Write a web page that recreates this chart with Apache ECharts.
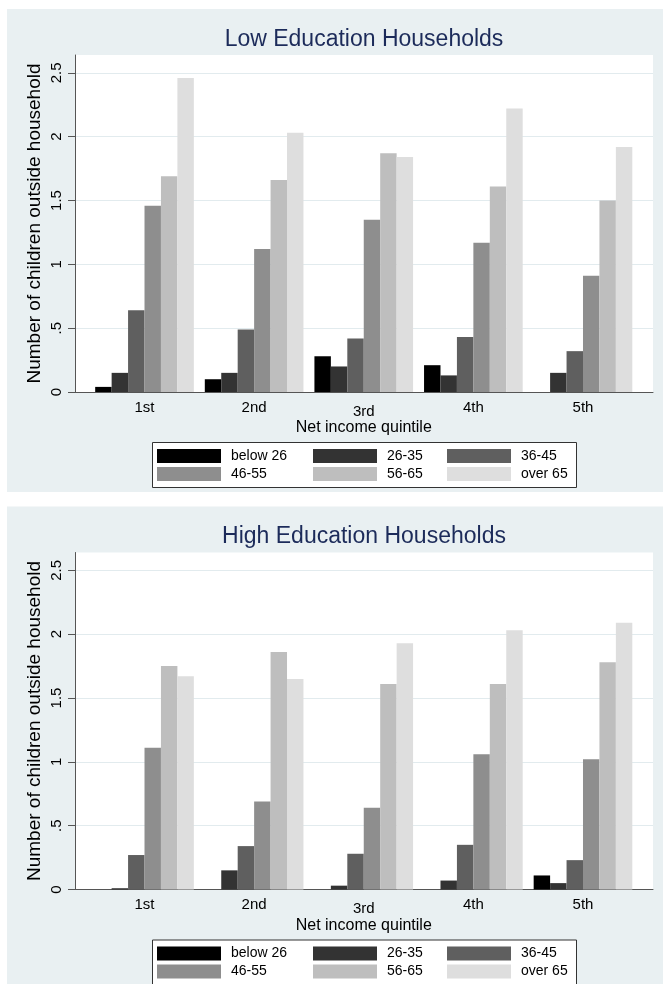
<!DOCTYPE html>
<html>
<head>
<meta charset="utf-8">
<script src="https://cdn.jsdelivr.net/npm/echarts@6/dist/echarts.min.js"></script>
<style>
  html, body { margin: 0; padding: 0; background: #ffffff; }
  #chart { width: 663px; height: 984px; }
</style>
</head>
<body>
<div id="chart"></div>
<script>
// Income quintiles on the category axis
const categories = ['1st', '2nd', '3rd', '4th', '5th'];
// Age groups of the household head, one series each
const ageGroups = ['below 26', '26-35', '36-45', '46-55', '56-65', 'over 65'];
// Value-axis ticks
const yTicks = [0, 0.5, 1, 1.5, 2, 2.5];

// Low education households: mean number of children outside household
const lowBelow26 = [0.04, 0.10, 0.28, 0.21, 0];
const low26to35  = [0.15, 0.15, 0.20, 0.13, 0.15];
const low36to45  = [0.64, 0.49, 0.42, 0.43, 0.32];
const low46to55  = [1.46, 1.12, 1.35, 1.17, 0.91];
const low56to65  = [1.69, 1.66, 1.87, 1.61, 1.50];
const lowOver65  = [2.46, 2.03, 1.84, 2.22, 1.92];

// High education households
const highBelow26 = [0, 0, 0, 0, 0.11];
const high26to35  = [0.01, 0.15, 0.03, 0.07, 0.05];
const high36to45  = [0.27, 0.34, 0.28, 0.35, 0.23];
const high46to55  = [1.11, 0.69, 0.64, 1.06, 1.02];
const high56to65  = [1.75, 1.86, 1.61, 1.61, 1.78];
const highOver65  = [1.67, 1.65, 1.93, 2.03, 2.09];

const panels = [
  { title: 'Low Education Households',
    values: [lowBelow26, low26to35, low36to45, low46to55, low56to65, lowOver65] },
  { title: 'High Education Households',
    values: [highBelow26, high26to35, high36to45, high46to55, high56to65, highOver65] }
];

const barColors = ['#000000', '#333333', '#5f5f5f', '#8e8e8e', '#bebebe', '#dedede'];
const FONT = '"Liberation Sans", Arial, Helvetica, sans-serif';
const PANEL_BG = '#e9f0f2';
const GRID_LINE = '#e2ebee';
const AXIS_COLOR = '#555555';
const Y_MAX = 2.64;
const PANEL_STEP = 497.5;

const fmtTick = v => (v === 0 ? '0' : String(v).replace(/^0\./, '.'));

const option = {
  animation: false,
  backgroundColor: '#ffffff',
  textStyle: { fontFamily: FONT },
  title: [],
  grid: [],
  xAxis: [],
  yAxis: [],
  legend: [],
  series: [],
  graphic: []
};

panels.forEach((panel, p) => {
  const off = p * PANEL_STEP;
  const gFrame = option.grid.length;
  const gBars = gFrame + 1;

  // panel background
  option.graphic.push({
    type: 'rect', z: -10, silent: true,
    shape: { x: 7, y: 9 + off, width: 660, height: 483 },
    style: { fill: PANEL_BG }
  });
  // legend frame
  option.graphic.push({
    type: 'rect', z: 1, silent: true,
    shape: { x: 152.5, y: 442.5 + off, width: 424, height: 45 },
    style: { fill: '#ffffff', stroke: '#333333', lineWidth: 1 }
  });

  option.title.push({
    text: panel.title,
    left: 364, top: 28 + off, padding: 0,
    textAlign: 'center',
    textStyle: { fontFamily: FONT, fontSize: 23, fontWeight: 'normal', color: '#1c2b5a' }
  });

  // plot region with the value axis and frame lines
  option.grid.push({
    left: 75, right: 10, top: 55 + off, height: 337,
    show: true, backgroundColor: '#ffffff', borderWidth: 0
  });
  // inset grid holding the bar groups
  option.grid.push({
    left: 89.7, right: 25.2, top: 55 + off, height: 337
  });

  option.xAxis.push({
    gridIndex: gFrame, type: 'value', min: 0, max: 1,
    axisLine: { show: true, onZero: false, lineStyle: { color: AXIS_COLOR, width: 1 } },
    axisTick: { show: false }, axisLabel: { show: false }, splitLine: { show: false }
  });
  option.xAxis.push({
    gridIndex: gBars, type: 'category', data: categories,
    axisLine: { show: false }, axisTick: { show: false },
    axisLabel: {
      margin: 8, fontSize: 15, color: '#000000', fontFamily: FONT,
      formatter: (v, i) => (i === 2 ? '{low|' + v + '}' : v),
      rich: { low: { fontSize: 15, color: '#000000', fontFamily: FONT, padding: [4, 0, 0, 0] } }
    },
    name: 'Net income quintile', nameLocation: 'middle', nameGap: 28,
    nameMoveOverlap: false,
    nameTextStyle: { fontSize: 16, color: '#000000', fontFamily: FONT }
  });

  option.yAxis.push({
    gridIndex: gFrame, type: 'value', min: 0, max: Y_MAX, interval: 0.5,
    axisLine: { show: true, lineStyle: { color: AXIS_COLOR, width: 1 } },
    axisTick: { show: true, length: 7, inside: false, customValues: yTicks,
                lineStyle: { color: AXIS_COLOR, width: 1 } },
    axisLabel: { rotate: 90, margin: 11, fontSize: 15, color: '#000000', fontFamily: FONT,
                 customValues: yTicks, formatter: fmtTick },
    splitLine: { show: true, lineStyle: { color: GRID_LINE, width: 1 } },
    name: 'Number of children outside household', nameLocation: 'middle', nameGap: 31,
    nameMoveOverlap: false,
    nameTextStyle: { fontSize: 19, color: '#000000', fontFamily: FONT }
  });
  option.yAxis.push({
    gridIndex: gBars, type: 'value', min: 0, max: Y_MAX, show: false
  });

  ageGroups.forEach((name, k) => {
    option.series.push({
      type: 'bar', name: name,
      xAxisIndex: gBars, yAxisIndex: gBars,
      data: panel.values[k],
      barGap: '0%', barCategoryGap: '10%',
      itemStyle: { color: barColors[k], borderWidth: 0 },
      emphasis: { disabled: true }
    });
  });

  // legend in three columns of two rows
  const cols = [
    { left: 157, names: [ageGroups[0], ageGroups[3]] },
    { left: 313, names: [ageGroups[1], ageGroups[4]] },
    { left: 447, names: [ageGroups[2], ageGroups[5]] }
  ];
  cols.forEach(c => {
    option.legend.push({
      orient: 'vertical', left: c.left, top: 449 + off, padding: 0,
      itemWidth: 64, itemHeight: 14, itemGap: 4, icon: 'rect',
      selectedMode: false, data: c.names, z: 5,
      textStyle: { fontSize: 14, lineHeight: 14, color: '#000000', fontFamily: FONT,
                   padding: [0, 0, 0, 5] }
    });
  });
});

const chart = echarts.init(document.getElementById('chart'), null, { renderer: 'canvas' });
chart.setOption(option);
</script>
</body>
</html>
